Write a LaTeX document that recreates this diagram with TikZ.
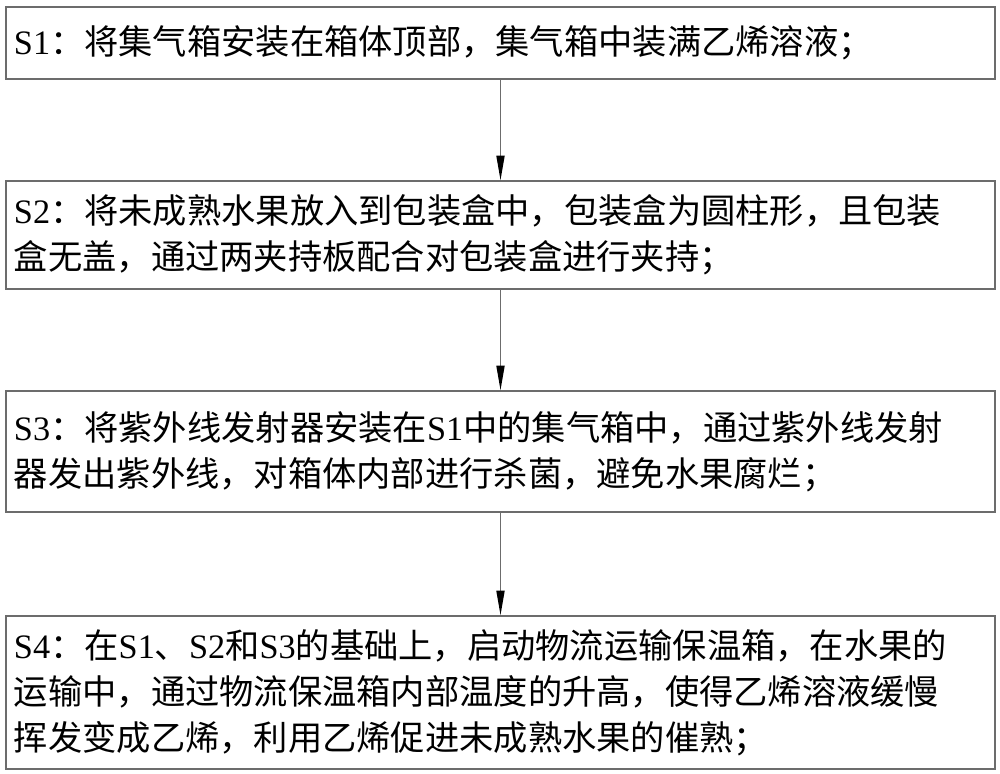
\documentclass[tikz,border=0pt]{standalone}
\usepackage{fontspec}
\setmainfont{Liberation Serif}
\newfontfamily\cjk{Noto Sans CJK SC}
\usetikzlibrary{arrows.meta}
\newcommand{\lat}[1]{{\rmfamily #1}}
\tikzset{stepbox/.style={draw=gray!85!black, line width=0.8pt, minimum width=19.78cm, minimum height=#1, text width=19.46cm, inner xsep=0.16cm, align=left, font=\cjk\fontsize{19.5}{26.2}\selectfont},
%default height of a step box
stepbox/.default={1.44cm}}

\begin{document}
\begin{tikzpicture}[flow/.style={draw=gray!85!black, line width=0.8pt, -{Triangle[length=14pt, width=4.6pt, color=black]}}]
\useasboundingbox (0,0) rectangle (20,-15.48);
%\draw[step=1cm,color=gray] (0,0) grid (20,-15.48);
\node[stepbox] (s1) at (10.01,-0.86) {\lat{S1}：将集气箱安装在箱体顶部，集气箱中装满乙烯溶液；};
\node[stepbox=2.16cm] (s2) at (10.01,-4.70) {\lat{S2}：将未成熟水果放入到包装盒中，包装盒为圆柱形，且包装\\盒无盖，通过两夹持板配合对包装盒进行夹持；};
\node[stepbox=2.42cm] (s3) at (10.01,-9.03) {\lat{S3}：将紫外线发射器安装在\lat{S1}中的集气箱中，通过紫外线发射\\器发出紫外线，对箱体内部进行杀菌，避免水果腐烂；};
\node[stepbox=3.06cm] (s4) at (10.01,-13.85) {\lat{S4}：在\lat{S1}、\lat{S2}和\lat{S3}的基础上，启动物流运输保温箱，在水果的\\运输中，通过物流保温箱内部温度的升高，使得乙烯溶液缓慢\\挥发变成乙烯，利用乙烯促进未成熟水果的催熟；};
\draw[flow] (s1) -- (s2);
\draw[flow] (s2) -- (s3);
\draw[flow] (s3) -- (s4);
\end{tikzpicture}
\end{document}
